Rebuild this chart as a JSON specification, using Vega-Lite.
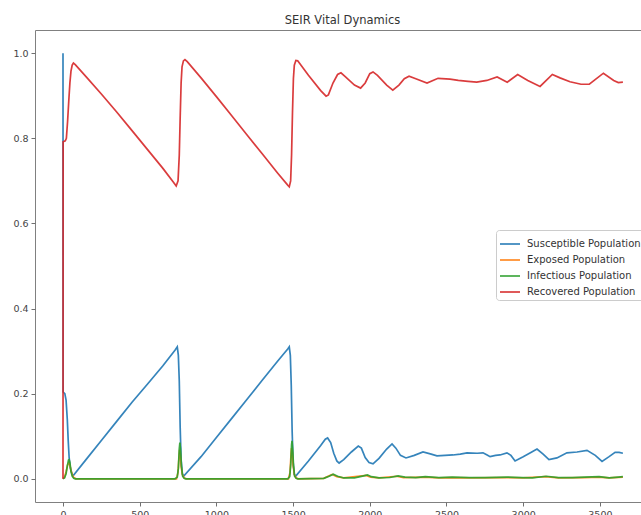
{
  "$schema": "https://vega.github.io/schema/vega-lite/v6.json",
  "autosize": "none",
  "width": 607,
  "height": 472,
  "padding": {"left": 35, "top": 30, "right": -1, "bottom": 13},
  "background": "white",
  "title": {
    "text": "SEIR Vital Dynamics",
    "font": "DejaVu Sans",
    "fontSize": 11.5,
    "fontWeight": "normal",
    "color": "#333333",
    "anchor": "middle",
    "frame": "group",
    "offset": 4,
    "dx": 4
  },
  "config": {
    "view": {"stroke": "#808080", "strokeWidth": 1},
    "axis": {
      "domain": false,
      "grid": false,
      "tickColor": "#707070",
      "tickSize": 4,
      "labelFont": "DejaVu Sans",
      "labelFontSize": 9.5,
      "labelColor": "#444444",
      "labelPadding": 3,
      "title": null
    }
  },
  "datasets": {
    "susceptible": [
      {"day": 0, "fraction": 1.0}, {"day": 1, "fraction": 0.204}, {"day": 12, "fraction": 0.2},
      {"day": 20, "fraction": 0.185}, {"day": 28, "fraction": 0.14}, {"day": 34, "fraction": 0.09},
      {"day": 40, "fraction": 0.05}, {"day": 48, "fraction": 0.025}, {"day": 58, "fraction": 0.012},
      {"day": 66, "fraction": 0.007}, {"day": 150, "fraction": 0.045}, {"day": 250, "fraction": 0.09},
      {"day": 350, "fraction": 0.135}, {"day": 450, "fraction": 0.18}, {"day": 550, "fraction": 0.222},
      {"day": 650, "fraction": 0.265}, {"day": 730, "fraction": 0.302}, {"day": 745, "fraction": 0.31},
      {"day": 752, "fraction": 0.29}, {"day": 758, "fraction": 0.23}, {"day": 764, "fraction": 0.12},
      {"day": 770, "fraction": 0.045}, {"day": 778, "fraction": 0.012}, {"day": 786, "fraction": 0.006},
      {"day": 900, "fraction": 0.052}, {"day": 1000, "fraction": 0.097}, {"day": 1100, "fraction": 0.142},
      {"day": 1200, "fraction": 0.187}, {"day": 1300, "fraction": 0.232}, {"day": 1400, "fraction": 0.277},
      {"day": 1465, "fraction": 0.305}, {"day": 1475, "fraction": 0.31}, {"day": 1482, "fraction": 0.29},
      {"day": 1488, "fraction": 0.22}, {"day": 1494, "fraction": 0.11}, {"day": 1500, "fraction": 0.04},
      {"day": 1508, "fraction": 0.01}, {"day": 1516, "fraction": 0.006}, {"day": 1600, "fraction": 0.042},
      {"day": 1680, "fraction": 0.078}, {"day": 1710, "fraction": 0.093}, {"day": 1725, "fraction": 0.096},
      {"day": 1745, "fraction": 0.085}, {"day": 1765, "fraction": 0.06}, {"day": 1785, "fraction": 0.042},
      {"day": 1800, "fraction": 0.037}, {"day": 1830, "fraction": 0.045}, {"day": 1880, "fraction": 0.063},
      {"day": 1925, "fraction": 0.077}, {"day": 1945, "fraction": 0.072}, {"day": 1970, "fraction": 0.05},
      {"day": 1995, "fraction": 0.038}, {"day": 2021, "fraction": 0.035}, {"day": 2060, "fraction": 0.048},
      {"day": 2110, "fraction": 0.07}, {"day": 2145, "fraction": 0.082}, {"day": 2170, "fraction": 0.072},
      {"day": 2200, "fraction": 0.055}, {"day": 2236, "fraction": 0.049}, {"day": 2290, "fraction": 0.055},
      {"day": 2347, "fraction": 0.063}, {"day": 2400, "fraction": 0.058}, {"day": 2438, "fraction": 0.054},
      {"day": 2490, "fraction": 0.055}, {"day": 2542, "fraction": 0.056}, {"day": 2590, "fraction": 0.058},
      {"day": 2634, "fraction": 0.061}, {"day": 2700, "fraction": 0.06}, {"day": 2738, "fraction": 0.061},
      {"day": 2765, "fraction": 0.056}, {"day": 2784, "fraction": 0.052}, {"day": 2820, "fraction": 0.055},
      {"day": 2849, "fraction": 0.056}, {"day": 2894, "fraction": 0.061}, {"day": 2920, "fraction": 0.055},
      {"day": 2947, "fraction": 0.042}, {"day": 3000, "fraction": 0.052}, {"day": 3050, "fraction": 0.062},
      {"day": 3090, "fraction": 0.07}, {"day": 3130, "fraction": 0.058}, {"day": 3168, "fraction": 0.045},
      {"day": 3220, "fraction": 0.049}, {"day": 3285, "fraction": 0.061}, {"day": 3351, "fraction": 0.063},
      {"day": 3416, "fraction": 0.067}, {"day": 3470, "fraction": 0.055}, {"day": 3514, "fraction": 0.041},
      {"day": 3560, "fraction": 0.052}, {"day": 3599, "fraction": 0.062}, {"day": 3625, "fraction": 0.062},
      {"day": 3650, "fraction": 0.06}
    ],
    "exposed": [
      {"day": 0, "fraction": 0.0}, {"day": 10, "fraction": 0.004}, {"day": 20, "fraction": 0.016},
      {"day": 30, "fraction": 0.033}, {"day": 38, "fraction": 0.038}, {"day": 45, "fraction": 0.032},
      {"day": 52, "fraction": 0.02}, {"day": 60, "fraction": 0.01}, {"day": 70, "fraction": 0.003},
      {"day": 85, "fraction": 0.0}, {"day": 740, "fraction": 0.0}, {"day": 750, "fraction": 0.015},
      {"day": 756, "fraction": 0.05}, {"day": 760, "fraction": 0.068}, {"day": 764, "fraction": 0.06},
      {"day": 770, "fraction": 0.03}, {"day": 778, "fraction": 0.01}, {"day": 790, "fraction": 0.002},
      {"day": 805, "fraction": 0.0}, {"day": 1470, "fraction": 0.0}, {"day": 1480, "fraction": 0.015},
      {"day": 1486, "fraction": 0.055}, {"day": 1490, "fraction": 0.072}, {"day": 1494, "fraction": 0.065},
      {"day": 1500, "fraction": 0.032}, {"day": 1508, "fraction": 0.01}, {"day": 1520, "fraction": 0.002},
      {"day": 1535, "fraction": 0.0}, {"day": 1700, "fraction": 0.001}, {"day": 1735, "fraction": 0.007},
      {"day": 1755, "fraction": 0.01}, {"day": 1785, "fraction": 0.005}, {"day": 1830, "fraction": 0.002},
      {"day": 1950, "fraction": 0.007}, {"day": 1975, "fraction": 0.008}, {"day": 2005, "fraction": 0.004},
      {"day": 2060, "fraction": 0.002}, {"day": 2175, "fraction": 0.006}, {"day": 2220, "fraction": 0.003},
      {"day": 2355, "fraction": 0.004}, {"day": 2450, "fraction": 0.002}, {"day": 2530, "fraction": 0.003},
      {"day": 2650, "fraction": 0.002}, {"day": 2890, "fraction": 0.003}, {"day": 3000, "fraction": 0.002},
      {"day": 3145, "fraction": 0.005}, {"day": 3230, "fraction": 0.002}, {"day": 3400, "fraction": 0.003},
      {"day": 3490, "fraction": 0.004}, {"day": 3560, "fraction": 0.002}, {"day": 3650, "fraction": 0.004}
    ],
    "infectious": [
      {"day": 0, "fraction": 0.0}, {"day": 10, "fraction": 0.002}, {"day": 20, "fraction": 0.012},
      {"day": 28, "fraction": 0.03}, {"day": 36, "fraction": 0.044}, {"day": 40, "fraction": 0.045},
      {"day": 45, "fraction": 0.038}, {"day": 52, "fraction": 0.018}, {"day": 60, "fraction": 0.006},
      {"day": 70, "fraction": 0.001}, {"day": 80, "fraction": 0.0}, {"day": 730, "fraction": 0.0},
      {"day": 745, "fraction": 0.004}, {"day": 752, "fraction": 0.025}, {"day": 758, "fraction": 0.07},
      {"day": 762, "fraction": 0.085}, {"day": 766, "fraction": 0.07}, {"day": 772, "fraction": 0.03},
      {"day": 780, "fraction": 0.006}, {"day": 790, "fraction": 0.001}, {"day": 800, "fraction": 0.0},
      {"day": 1465, "fraction": 0.0}, {"day": 1478, "fraction": 0.005}, {"day": 1485, "fraction": 0.035},
      {"day": 1490, "fraction": 0.08}, {"day": 1493, "fraction": 0.089}, {"day": 1497, "fraction": 0.07},
      {"day": 1503, "fraction": 0.03}, {"day": 1510, "fraction": 0.006}, {"day": 1520, "fraction": 0.001},
      {"day": 1530, "fraction": 0.0}, {"day": 1700, "fraction": 0.001}, {"day": 1735, "fraction": 0.006},
      {"day": 1762, "fraction": 0.011}, {"day": 1790, "fraction": 0.006}, {"day": 1830, "fraction": 0.002},
      {"day": 1900, "fraction": 0.002}, {"day": 1960, "fraction": 0.007}, {"day": 1985, "fraction": 0.009},
      {"day": 2010, "fraction": 0.005}, {"day": 2060, "fraction": 0.002}, {"day": 2130, "fraction": 0.003},
      {"day": 2185, "fraction": 0.007}, {"day": 2230, "fraction": 0.004}, {"day": 2300, "fraction": 0.003},
      {"day": 2362, "fraction": 0.005}, {"day": 2450, "fraction": 0.003}, {"day": 2537, "fraction": 0.004},
      {"day": 2650, "fraction": 0.003}, {"day": 2750, "fraction": 0.003}, {"day": 2896, "fraction": 0.004},
      {"day": 2990, "fraction": 0.003}, {"day": 3060, "fraction": 0.002}, {"day": 3150, "fraction": 0.006},
      {"day": 3230, "fraction": 0.003}, {"day": 3320, "fraction": 0.003}, {"day": 3400, "fraction": 0.004},
      {"day": 3495, "fraction": 0.005}, {"day": 3560, "fraction": 0.002}, {"day": 3620, "fraction": 0.004},
      {"day": 3650, "fraction": 0.005}
    ],
    "recovered": [
      {"day": 0, "fraction": 0.0}, {"day": 1, "fraction": 0.792}, {"day": 15, "fraction": 0.794},
      {"day": 22, "fraction": 0.8}, {"day": 30, "fraction": 0.84}, {"day": 38, "fraction": 0.89},
      {"day": 45, "fraction": 0.93}, {"day": 52, "fraction": 0.958}, {"day": 60, "fraction": 0.972},
      {"day": 68, "fraction": 0.977}, {"day": 80, "fraction": 0.973}, {"day": 150, "fraction": 0.945},
      {"day": 250, "fraction": 0.904}, {"day": 350, "fraction": 0.862}, {"day": 450, "fraction": 0.818},
      {"day": 550, "fraction": 0.774}, {"day": 650, "fraction": 0.73}, {"day": 720, "fraction": 0.697},
      {"day": 738, "fraction": 0.688}, {"day": 750, "fraction": 0.7}, {"day": 758, "fraction": 0.76},
      {"day": 764, "fraction": 0.85}, {"day": 770, "fraction": 0.93}, {"day": 776, "fraction": 0.968},
      {"day": 785, "fraction": 0.982}, {"day": 795, "fraction": 0.985}, {"day": 810, "fraction": 0.98},
      {"day": 900, "fraction": 0.942}, {"day": 1000, "fraction": 0.898}, {"day": 1100, "fraction": 0.853},
      {"day": 1200, "fraction": 0.808}, {"day": 1300, "fraction": 0.763}, {"day": 1400, "fraction": 0.718},
      {"day": 1465, "fraction": 0.69}, {"day": 1475, "fraction": 0.686}, {"day": 1484, "fraction": 0.7},
      {"day": 1490, "fraction": 0.76}, {"day": 1496, "fraction": 0.86}, {"day": 1502, "fraction": 0.94},
      {"day": 1508, "fraction": 0.972}, {"day": 1518, "fraction": 0.983}, {"day": 1530, "fraction": 0.982},
      {"day": 1600, "fraction": 0.948}, {"day": 1680, "fraction": 0.912}, {"day": 1715, "fraction": 0.899},
      {"day": 1730, "fraction": 0.902}, {"day": 1760, "fraction": 0.93}, {"day": 1790, "fraction": 0.95},
      {"day": 1812, "fraction": 0.954}, {"day": 1840, "fraction": 0.945}, {"day": 1900, "fraction": 0.925},
      {"day": 1940, "fraction": 0.918}, {"day": 1970, "fraction": 0.93}, {"day": 2000, "fraction": 0.952},
      {"day": 2021, "fraction": 0.956}, {"day": 2050, "fraction": 0.948}, {"day": 2110, "fraction": 0.925},
      {"day": 2150, "fraction": 0.913}, {"day": 2190, "fraction": 0.925}, {"day": 2225, "fraction": 0.94},
      {"day": 2256, "fraction": 0.946}, {"day": 2300, "fraction": 0.94}, {"day": 2373, "fraction": 0.93},
      {"day": 2445, "fraction": 0.941}, {"day": 2523, "fraction": 0.939}, {"day": 2577, "fraction": 0.936},
      {"day": 2640, "fraction": 0.934}, {"day": 2697, "fraction": 0.932}, {"day": 2763, "fraction": 0.936},
      {"day": 2830, "fraction": 0.944}, {"day": 2896, "fraction": 0.932}, {"day": 2964, "fraction": 0.95},
      {"day": 3030, "fraction": 0.936}, {"day": 3110, "fraction": 0.922}, {"day": 3190, "fraction": 0.95},
      {"day": 3240, "fraction": 0.942}, {"day": 3305, "fraction": 0.933}, {"day": 3377, "fraction": 0.927},
      {"day": 3431, "fraction": 0.927}, {"day": 3523, "fraction": 0.953}, {"day": 3590, "fraction": 0.936},
      {"day": 3620, "fraction": 0.931}, {"day": 3650, "fraction": 0.932}
    ]
  },
  "encoding": {
    "x": {
      "field": "day",
      "type": "quantitative",
      "scale": {"domain": [-182.5, 3774.5], "nice": false, "zero": false},
      "axis": {"values": [0, 500, 1000, 1500, 2000, 2500, 3000, 3500], "format": "d"}
    },
    "y": {
      "field": "fraction",
      "type": "quantitative",
      "scale": {"domain": [-0.0545, 1.0545], "nice": false, "zero": false},
      "axis": {"values": [0, 0.2, 0.4, 0.6, 0.8, 1.0], "format": ".1f"}
    }
  },
  "layer": [
    {
      "data": {"name": "susceptible"},
      "mark": {"type": "line", "strokeWidth": 1.7, "opacity": 0.9},
      "encoding": {
        "color": {
          "datum": "Susceptible Population",
          "type": "nominal",
          "scale": {
            "domain": ["Susceptible Population", "Exposed Population", "Infectious Population", "Recovered Population"],
            "range": ["#1f77b4", "#ff7f0e", "#2ca02c", "#d62728"]
          },
          "legend": {
            "orient": "none",
            "legendX": 461,
            "legendY": 200,
            "title": null,
            "fillColor": "white",
            "strokeColor": "#cccccc",
            "cornerRadius": 3,
            "padding": 3,
            "symbolType": "stroke",
            "symbolSize": 400,
            "symbolStrokeWidth": 1.7,
            "labelFont": "DejaVu Sans",
            "labelFontSize": 10,
            "labelColor": "#333333",
            "labelOffset": 6,
            "rowPadding": -3
          }
        }
      }
    },
    {
      "data": {"name": "exposed"},
      "mark": {"type": "line", "strokeWidth": 1.7, "opacity": 0.9},
      "encoding": {"color": {"datum": "Exposed Population", "type": "nominal"}}
    },
    {
      "data": {"name": "infectious"},
      "mark": {"type": "line", "strokeWidth": 1.7, "opacity": 0.9},
      "encoding": {"color": {"datum": "Infectious Population", "type": "nominal"}}
    },
    {
      "data": {"name": "recovered"},
      "mark": {"type": "line", "strokeWidth": 1.7, "opacity": 0.9},
      "encoding": {"color": {"datum": "Recovered Population", "type": "nominal"}}
    }
  ]
}
